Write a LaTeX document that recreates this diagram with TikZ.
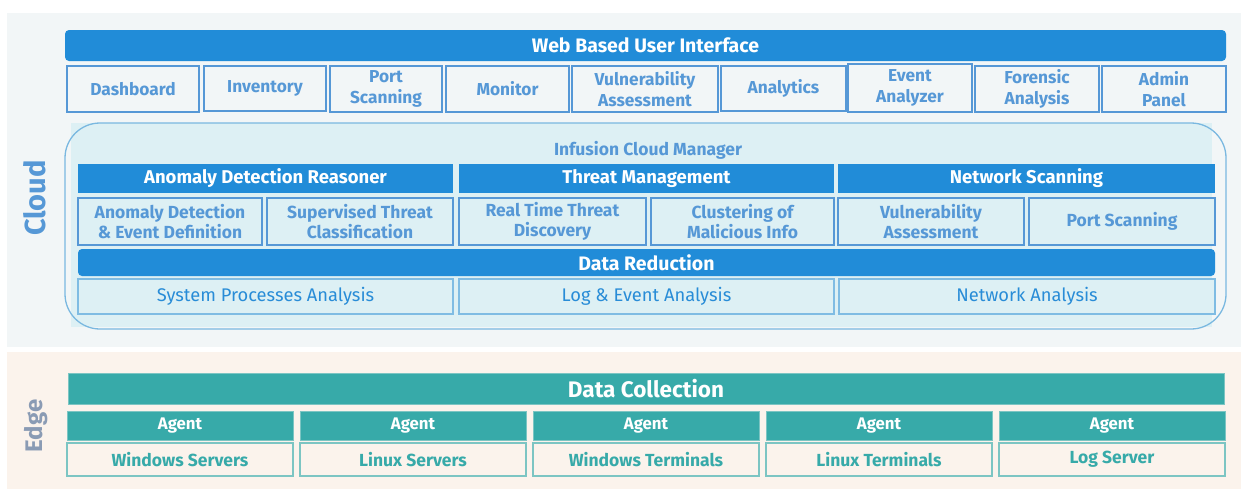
\documentclass[tikz,border=0pt]{standalone}
\usepackage{fontspec}
\setmainfont{Fira Sans}
\definecolor{cloudbg}{RGB}{242,246,247}
\definecolor{edgebg}{RGB}{251,243,236}
\definecolor{barblue}{RGB}{33,140,216}
\definecolor{tabblue}{RGB}{86,152,214}
\definecolor{mgrfill}{RGB}{221,240,244}
\definecolor{mgrline}{RGB}{122,184,224}
\definecolor{anablue}{RGB}{40,140,215}
\definecolor{analine}{RGB}{127,188,227}
\definecolor{teal}{RGB}{55,170,169}
\definecolor{teallight}{RGB}{124,197,195}
\definecolor{edgelbl}{RGB}{138,155,180}
\tikzset{
  every node/.style={inner sep=0pt, outer sep=0pt, align=center},
  panel/.style={fill=#1},
  bluebar/.style={fill=barblue, rounded corners=4pt, text=white, font=\bfseries\fontsize{19.5}{21}\selectfont},
  tabbox/.style={fill=cloudbg, draw=tabblue, line width=1.8pt, text=tabblue, font=\bfseries\fontsize{17.3}{20.5}\selectfont},
  headbar/.style={fill=barblue, text=white, font=\bfseries\fontsize{18.5}{20}\selectfont},
  subbox/.style={fill=mgrfill, draw=tabblue, line width=1.6pt, text=tabblue, font=\bfseries\fontsize{17.5}{20.5}\selectfont},
  anabox/.style={fill=mgrfill, draw=analine, line width=1.4pt, text=anablue, font=\fontsize{18.3}{20}\selectfont},
  tealbar/.style={fill=teal, draw=teallight, line width=0.8pt, text=white, font=\bfseries\fontsize{22.5}{24}\selectfont},
  agentbar/.style={fill=teal, draw=teallight, line width=0.8pt, text=white, font=\bfseries\fontsize{16.8}{18}\selectfont},
  hostbox/.style={fill=edgebg, draw=teallight, line width=1.2pt, text=teal, font=\bfseries\fontsize{17.5}{19}\selectfont},
}
% box from its top-left (x1,y1) to its bottom-right (x2,y2)
\newcommand\bx[7]{\node[#6, anchor=north west, minimum width={(#4-#2)*1pt}, minimum height={(#5-#3)*1pt}] (#1) at (#2,#3) {#7};}
\begin{document}
\begin{tikzpicture}[x=1pt,y=-1pt]
\useasboundingbox (0,0) rectangle (1241,490);
% tier panels
\bx{cloudpanel}{7}{13}{1241}{347}{panel=cloudbg}{}
\bx{edgepanel}{7}{352}{1241}{489}{panel=edgebg}{}
\node[rotate=90, text=tabblue, font=\bfseries\fontsize{29}{30}\selectfont] (cloudlbl) at (35,198) {Cloud};
\node[rotate=90, text=edgelbl, font=\bfseries\fontsize{24}{26}\selectfont] (edgelbl) at (36,426) {Edge};

% web user interface
\bx{wbui}{65}{30}{1226}{61}{bluebar}{Web Based User Interface}
\bx{t1}{67}{66}{199}{112}{tabbox}{Dashboard}
\bx{t2}{204}{66}{326}{111}{tabbox}{Inventory}
\bx{t3}{330}{66}{442}{112}{tabbox}{Port\\Scanning}
\bx{t4}{446}{66}{569}{112}{tabbox}{Monitor}
\bx{t5}{572}{66}{718}{112}{tabbox}{Vulnerability\\Assessment}
\bx{t6}{721}{66}{846}{111}{tabbox}{Analytics}
\bx{t7}{848}{64}{972}{112}{tabbox}{Event\\Analyzer}
\bx{t8}{975}{66}{1099}{112}{tabbox}{Forensic\\Analysis}
\bx{t9}{1102}{66}{1226}{112}{tabbox}{Admin\\Panel}

% cloud manager container
\bx{mgrbg}{71}{123}{1212}{327}{panel=mgrfill}{}
\bx{mgr}{65}{123}{1226}{329}{draw=mgrline, line width=1.3pt, rounded corners=35pt}{}
\node[text=tabblue, font=\bfseries\fontsize{17.5}{19}\selectfont] (mgrlbl) at (648,150) {Infusion Cloud Manager};

\bx{adr}{78}{164}{453}{193}{headbar}{Anomaly Detection Reasoner}
\bx{tm}{459}{164}{834}{193}{headbar}{Threat Management}
\bx{ns}{838}{164}{1215}{193}{headbar}{Network Scanning}

\bx{s1}{78}{198}{262}{245}{subbox}{Anomaly Detection\\\& Event Definition}
\bx{s2}{267}{198}{453}{245}{subbox}{Supervised Threat\\Classification}
\bx{s3}{459}{198}{646}{245}{subbox}{Real Time Threat\\Discovery}
\bx{s4}{651}{198}{834}{245}{subbox}{Clustering of\\Malicious Info}
\bx{s5}{838}{198}{1024}{245}{subbox}{Vulnerability\\Assessment}
\bx{s6}{1029}{198}{1215}{245}{subbox}{Port Scanning}

\bx{dr}{78}{249}{1215}{276}{bluebar}{Data Reduction}
\bx{a1}{78}{279}{453}{314}{anabox}{System Processes Analysis}
\bx{a2}{459}{279}{834}{314}{anabox}{Log \& Event Analysis}
\bx{a3}{839}{279}{1215}{314}{anabox}{Network Analysis}

% edge tier
\bx{dc}{68}{373}{1224}{404}{tealbar}{Data Collection}
\foreach \i/\h in {0/Windows Servers,1/Linux Servers,2/Windows Terminals,3/Linux Terminals,4/Log Server}{
  \pgfmathsetmacro\xa{67+233*\i}
  \pgfmathsetmacro\xb{\xa+226}
  \bx{ag\i}{\xa}{411}{\xb}{440}{agentbar}{Agent}
  \bx{h\i}{\xa}{443}{\xb}{476}{hostbox}{\h}
}
\end{tikzpicture}
\end{document}
